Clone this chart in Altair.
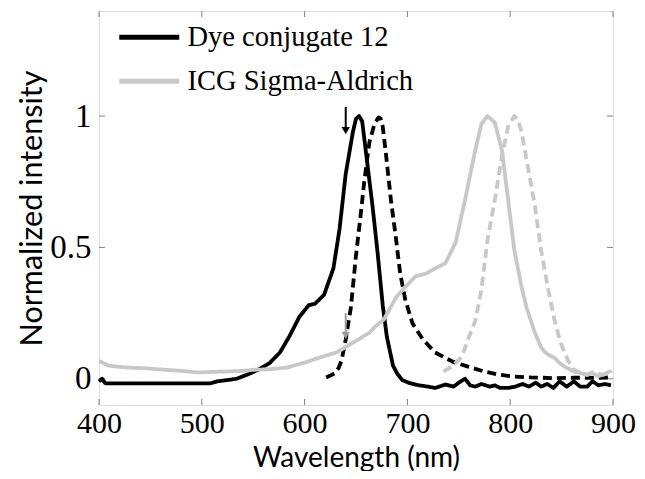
import altair as alt
import pandas as pd

# ---------------- data ----------------
dye_abs_nm = [400, 403, 406, 410, 420, 440, 460, 480, 500, 508, 515, 525, 534, 547, 555, 566,
              576, 585, 595, 604, 610, 619, 628, 634, 640, 647, 650, 653, 656, 661, 666, 671,
              676, 680, 686, 690, 695, 701, 711, 720, 727, 737, 745, 750, 756, 761, 766, 772,
              780, 785, 790, 798, 805, 812, 818, 825, 830, 836, 842, 848, 855, 862, 868, 875,
              880, 886, 892, 898]
dye_abs_val = [-0.01, 0.0, -0.017, -0.018, -0.018, -0.018, -0.018, -0.018, -0.018, -0.018, -0.01,
               -0.005, 0.0, 0.02, 0.035, 0.06, 0.1, 0.16, 0.236, 0.28, 0.285, 0.32, 0.42, 0.57,
               0.78, 0.94, 0.99, 1.0, 0.98, 0.82, 0.66, 0.48, 0.28, 0.16, 0.05, 0.02, -0.005,
               -0.015, -0.025, -0.03, -0.035, -0.022, -0.03, -0.015, 0.0, -0.025, -0.03, -0.02,
               -0.03, -0.025, -0.035, -0.035, -0.03, -0.02, -0.03, -0.015, -0.03, -0.02, -0.035,
               -0.01, -0.03, -0.01, -0.03, -0.03, -0.01, -0.025, -0.02, -0.025]

dye_em_nm = [621, 625, 629, 633, 636, 640, 645, 650, 655, 658, 663, 668, 672, 674, 676, 679,
             684, 689, 693, 698, 705, 715, 727, 744, 759, 775, 790, 804, 820, 830, 845, 862,
             880, 898]
dye_em_val = [0.005, 0.012, 0.02, 0.04, 0.07, 0.15, 0.27, 0.47, 0.64, 0.75, 0.9, 0.97, 0.995,
              0.99, 0.96, 0.86, 0.68, 0.53, 0.40, 0.30, 0.21, 0.15, 0.10, 0.065, 0.046, 0.027,
              0.015, 0.008, 0.005, 0.004, 0.002, 0.004, 0.003, 0.005]

icg_abs_nm = [400, 405, 409, 420, 431, 445, 464, 480, 496, 510, 527, 540, 551, 565, 582, 599,
              614, 631, 647, 663, 669, 677, 689, 698, 708, 718, 727, 737, 747, 756, 766, 772,
              778, 785, 792, 798, 804, 811, 816, 824, 830, 834, 840, 843, 848, 853, 862, 870,
              875, 880, 886, 893, 898]
icg_abs_val = [0.068, 0.058, 0.05, 0.045, 0.042, 0.04, 0.034, 0.03, 0.024, 0.026, 0.028, 0.03,
               0.034, 0.036, 0.042, 0.06, 0.08, 0.10, 0.137, 0.175, 0.2, 0.225, 0.31, 0.35,
               0.39, 0.40, 0.42, 0.44, 0.52, 0.68, 0.87, 0.97, 1.0, 0.975, 0.87, 0.68, 0.49,
               0.35, 0.27, 0.175, 0.12, 0.10, 0.085, 0.08, 0.06, 0.046, 0.027, 0.02, 0.015,
               0.02, 0.01, 0.02, 0.03]

icg_em_nm = [735, 743, 753, 759, 766, 772, 778, 785, 792, 798, 804, 807, 811, 817, 824, 830,
             837, 843, 849, 856, 862, 870, 875, 880, 885, 890, 895, 899]
icg_em_val = [0.027, 0.046, 0.084, 0.15, 0.22, 0.34, 0.53, 0.68, 0.85, 0.96, 1.0, 0.99, 0.94,
              0.81, 0.66, 0.49, 0.34, 0.225, 0.137, 0.072, 0.034, 0.02, 0.015, 0.025, 0.02,
              0.015, 0.02, 0.03]

series_names = ["Dye conjugate 12", "ICG Sigma-Aldrich"]
series_colors = ["#000000", "#c8c8c8"]
kinds = ["absorption", "emission"]

arrow_nm = [640, 640]
arrow_top = [1.035, 0.25]
arrow_head = [0.945, 0.165]
arrow_colors = ["#000000", "#9a9a9a"]

x_ticks = [400, 500, 600, 700, 800, 900]
y_ticks = [0, 0.5, 1]

# ---------------- tables ----------------
rows = []
for nm, v in zip(dye_abs_nm, dye_abs_val):
    rows.append({"nm": nm, "v": v, "sample": series_names[0], "kind": kinds[0]})
for nm, v in zip(dye_em_nm, dye_em_val):
    rows.append({"nm": nm, "v": v, "sample": series_names[0], "kind": kinds[1]})
for nm, v in zip(icg_abs_nm, icg_abs_val):
    rows.append({"nm": nm, "v": v, "sample": series_names[1], "kind": kinds[0]})
for nm, v in zip(icg_em_nm, icg_em_val):
    rows.append({"nm": nm, "v": v, "sample": series_names[1], "kind": kinds[1]})
df = pd.DataFrame(rows)

arrows = pd.DataFrame({"nm": arrow_nm, "top": arrow_top, "head": arrow_head, "c": arrow_colors})
xt = pd.DataFrame({"t": x_ticks})
yt = pd.DataFrame({"t": y_ticks})

W, H = 514, 394
xscale = alt.Scale(domain=[400, 900], nice=False)
yscale = alt.Scale(domain=[-0.1, 1.4], nice=False)

lines = alt.Chart(df).mark_line(strokeWidth=3.8, strokeJoin="round").encode(
    x=alt.X("nm:Q", scale=xscale,
            axis=alt.Axis(values=x_ticks, title="Wavelength (nm)", grid=False, domain=False,
                          ticks=False, labelFlush=False, labelOverlap=False,
                          labelFont="Liberation Serif", labelFontSize=30,
                          labelColor="black", labelPadding=3, titleFont="Lato",
                          titleFontSize=28, titleFontWeight="normal", titleColor="black",
                          titlePadding=6)),
    y=alt.Y("v:Q", scale=yscale,
            axis=alt.Axis(values=y_ticks, format="~g", title="Normalized intensity",
                          grid=False, domain=False, ticks=False, labelFlush=False,
                          labelOverlap=False,
                          labelFont="Liberation Serif", labelFontSize=33, labelColor="black",
                          labelPadding=8, titleFont="Lato", titleFontSize=30.5,
                          titleFontWeight="normal", titleColor="black", titlePadding=2)),
    color=alt.Color("sample:N", scale=alt.Scale(domain=series_names, range=series_colors),
                    legend=alt.Legend(orient="none", legendX=36, legendY=12, title=None,
                                      symbolType="M-3,0H3", symbolSize=400,
                                      symbolStrokeWidth=5, labelFont="Liberation Serif",
                                      labelFontSize=28.5, labelColor="black", labelOffset=24,
                                      labelLimit=500, rowPadding=15, padding=0)),
    strokeDash=alt.StrokeDash("kind:N", scale=alt.Scale(domain=kinds, range=[[1, 0], [9, 5]]),
                              legend=None),
    detail="kind:N",
)

shafts = alt.Chart(arrows).mark_rule(strokeWidth=2).encode(
    x=alt.X("nm:Q", scale=xscale), y=alt.Y("top:Q", scale=yscale), y2="head:Q",
    color=alt.Color("c:N", scale=None),
)
heads = alt.Chart(arrows).mark_point(shape="triangle-down", filled=True, size=70, opacity=1).encode(
    x=alt.X("nm:Q", scale=xscale), y=alt.Y("head:Q", scale=yscale),
    color=alt.Color("c:N", scale=None),
)

tick_style = dict(color="#808080", strokeWidth=1)
bt = alt.Chart(xt).mark_rule(**tick_style).encode(
    x=alt.X("t:Q", scale=xscale), y=alt.value(H), y2=alt.value(H - 6))
tt = alt.Chart(xt).mark_rule(**tick_style).encode(
    x=alt.X("t:Q", scale=xscale), y=alt.value(0), y2=alt.value(6))
lt = alt.Chart(yt).mark_rule(**tick_style).encode(
    y=alt.Y("t:Q", scale=yscale), x=alt.value(0), x2=alt.value(6))
rt = alt.Chart(yt).mark_rule(**tick_style).encode(
    y=alt.Y("t:Q", scale=yscale), x=alt.value(W), x2=alt.value(W - 6))

chart = alt.layer(bt, tt, lt, rt, lines, shafts, heads).properties(
    width=W, height=H,
    autosize=alt.AutoSizeParams(type="none"),
    padding={"left": 91, "top": 3, "right": 24, "bottom": 66},
).configure_view(stroke="#808080", strokeWidth=1).configure(background="white")

chart.save("out.html", embed_options={"renderer": "svg", "actions": False})
